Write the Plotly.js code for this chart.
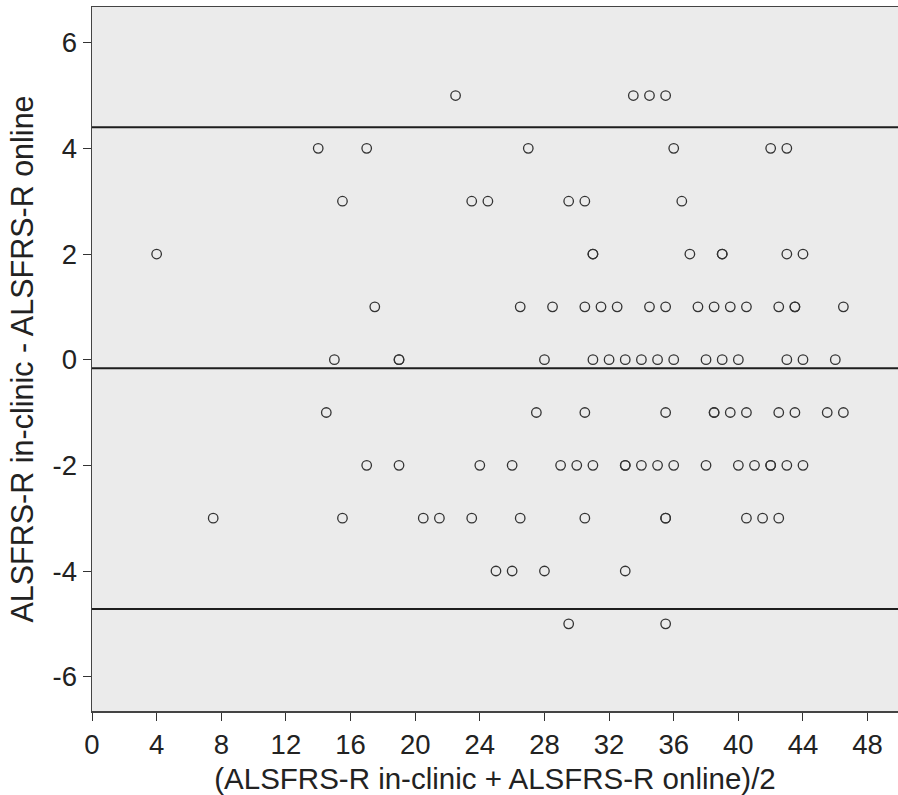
<!DOCTYPE html>
<html>
<head>
<meta charset="utf-8">
<script src="https://cdn.plot.ly/plotly-3.0.1.min.js"></script>
<style>html,body{margin:0;padding:0;background:#fff;}#chart{width:898px;height:795px;}</style>
</head>
<body>
<div id="chart"></div>
<script>
// Mean of the two scores (x) and their difference (y), one entry per patient
const meanScore = [
  22.5, 33.5, 34.5, 35.5,
  14, 17, 27, 36, 42, 43,
  15.5, 23.5, 24.5, 29.5, 30.5, 36.5,
  4, 31, 31, 37, 39, 39, 43, 44,
  17.5, 26.5, 28.5, 30.5, 31.5, 32.5, 34.5, 35.5, 37.5, 38.5, 39.5, 40.5, 42.5, 43.5, 43.5, 46.5,
  15, 19, 19, 28, 31, 32, 33, 34, 35, 36, 38, 39, 40, 43, 44, 46,
  14.5, 27.5, 30.5, 35.5, 38.5, 38.5, 39.5, 40.5, 42.5, 43.5, 45.5, 46.5,
  17, 19, 24, 26, 29, 30, 31, 33, 33, 34, 35, 36, 38, 40, 41, 42, 42, 43, 44,
  7.5, 15.5, 20.5, 21.5, 23.5, 26.5, 30.5, 35.5, 35.5, 40.5, 41.5, 42.5,
  25, 26, 28, 33,
  29.5, 35.5
];
const scoreDiff = [
  5, 5, 5, 5,
  4, 4, 4, 4, 4, 4,
  3, 3, 3, 3, 3, 3,
  2, 2, 2, 2, 2, 2, 2, 2,
  1, 1, 1, 1, 1, 1, 1, 1, 1, 1, 1, 1, 1, 1, 1, 1,
  0, 0, 0, 0, 0, 0, 0, 0, 0, 0, 0, 0, 0, 0, 0, 0,
  -1, -1, -1, -1, -1, -1, -1, -1, -1, -1, -1, -1,
  -2, -2, -2, -2, -2, -2, -2, -2, -2, -2, -2, -2, -2, -2, -2, -2, -2, -2, -2,
  -3, -3, -3, -3, -3, -3, -3, -3, -3, -3, -3, -3,
  -4, -4, -4, -4,
  -5, -5
];
// Mean difference and limits of agreement
const meanDiff = -0.16;
const upperLoA = 4.40;
const lowerLoA = -4.72;
const xTicks = [0, 4, 8, 12, 16, 20, 24, 28, 32, 36, 40, 44, 48];
const yTicks = [-6, -4, -2, 0, 2, 4, 6];

const refLines = [upperLoA, meanDiff, lowerLoA].map(v => ({
  type: 'line', xref: 'paper', yref: 'y', x0: 0, x1: 1, y0: v, y1: v,
  line: {color: '#1e1e1e', width: 2}
}));

const trace = {
  x: meanScore, y: scoreDiff, type: 'scatter', mode: 'markers',
  marker: {symbol: 'circle-open', size: 9.5, color: '#333333', line: {width: 1.3, color: '#333333'}},
  hoverinfo: 'x+y', showlegend: false
};

const font = 'Liberation Sans, Arial, Helvetica, sans-serif';
const layout = {
  width: 898, height: 795,
  margin: {l: 92, r: 0, t: 7, b: 84, pad: 0},
  paper_bgcolor: '#ffffff', plot_bgcolor: '#ebebeb',
  showlegend: false,
  font: {family: font, color: '#222'},
  xaxis: {
    range: [0, 49.88], tickvals: xTicks, ticktext: xTicks.map(String),
    showgrid: false, zeroline: false,
    showline: true, linecolor: '#444', linewidth: 1.5, mirror: true,
    ticks: 'outside', ticklen: 8, tickwidth: 1, tickcolor: '#333',
    tickfont: {size: 27.5, family: font, color: '#222'},
    title: {text: '(ALSFRS-R in-clinic + ALSFRS-R online)/2', font: {size: 29.5, family: font, color: '#222'}, standoff: 10},
    automargin: false
  },
  yaxis: {
    range: [-6.65, 6.676], tickvals: yTicks, ticktext: yTicks.map(String),
    showgrid: false, zeroline: false,
    showline: true, linecolor: '#444', linewidth: 1.5,
    ticks: 'outside', ticklen: 8, tickwidth: 1, tickcolor: '#333',
    tickfont: {size: 27.5, family: font, color: '#222'},
    title: {text: 'ALSFRS-R in-clinic - ALSFRS-R online', font: {size: 30.5, family: font, color: '#222'}, standoff: 10},
    automargin: false
  },
  shapes: refLines
};

Plotly.newPlot('chart', [trace], layout, {displayModeBar: false, staticPlot: true});
</script>
</body>
</html>
